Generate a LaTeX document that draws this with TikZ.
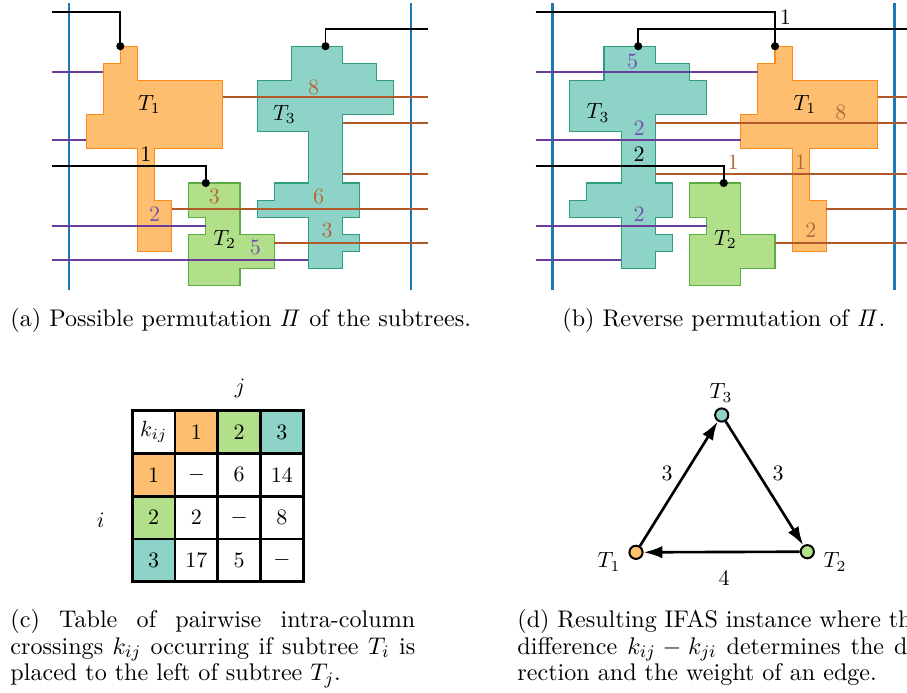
\documentclass[tikz,border=0pt]{standalone}
\usetikzlibrary{arrows.meta}
\definecolor{orF}{HTML}{FDBF6F}
\definecolor{orD}{HTML}{FF8A1C}
\definecolor{grF}{HTML}{B2DF8A}
\definecolor{grD}{HTML}{5AAE45}
\definecolor{tlF}{HTML}{8DD3C7}
\definecolor{tlD}{HTML}{2E9E7E}
\definecolor{bl}{HTML}{1F78B4}
\definecolor{pu}{HTML}{6A3D9A}
\definecolor{br}{HTML}{B15928}
\definecolor{puT}{HTML}{7450A8}
\definecolor{brT}{HTML}{B5673A}
\tikzset{
  treeO/.style={fill=orF, draw=orD, line width=0.5pt},
  treeG/.style={fill=grF, draw=grD, line width=0.5pt},
  treeT/.style={fill=tlF, draw=tlD, line width=0.5pt},
  pline/.style={pu, line width=0.9pt},
  bline/.style={br, line width=0.9pt},
  kline/.style={black, line width=0.9pt},
  colline/.style={bl, line width=1.3pt},
  dotk/.style={circle, fill=black, inner sep=0pt, minimum size=3.7pt},
  lab/.style={inner sep=0pt},
  labP/.style={inner sep=0pt, text=puT},
  labB/.style={inner sep=0pt, text=brT},
  cell/.style={draw, line width=1.2pt, minimum size=19.43pt, inner sep=0pt, anchor=center},
  gnode/.style={circle, draw, line width=0.9pt, minimum size=6pt, inner sep=0pt},
  gedge/.style={line width=1.2pt, -{Latex[length=8.5pt,width=5.6pt]}},
  captext/.style={inner sep=0pt, anchor=base west, font=\fontsize{10.95}{12.1}\selectfont},
  capbox/.style={inner sep=0pt, anchor=north west, text width=184pt, align=justify, font=\fontsize{10.95}{12.1}\selectfont},
}
\begin{document}
\begin{tikzpicture}[x=0.4545pt, y=-0.4545pt]
\clip (0,0) rectangle (907,692);
% ---------------- panel (a)
\begin{scope}[shift={(69,12)}, x=7.772pt, y=-7.772pt]
  \draw[treeO] (3,2)--(4,2)--(4,4)--(9,4)--(9,8)--(5,8)--(5,11)--(6,11)--(6,14)--(4,14)--(4,8)--(1,8)--(1,6)--(2,6)--(2,3)--(3,3)--cycle;
  \draw[treeG] (7,10)--(10,10)--(10,13)--(12,13)--(12,15)--(10,15)--(10,16)--(7,16)--(7,13)--(8,13)--(8,12)--(7,12)--cycle;
  \draw[treeT] (13,2)--(16,2)--(16,3)--(18,3)--(18,4)--(19,4)--(19,6)--(16,6)--(16,10)--(17,10)--(17,12)--(16,12)--(16,13)--(17,13)--(17,14)--(16,14)--(16,15)--(14,15)--(14,12)--(11,12)--(11,11)--(12,11)--(12,10)--(14,10)--(14,7)--(11,7)--(11,4)--(13,4)--cycle;
  \draw[colline] (0,-0.5)--(0,16.25);
  \draw[colline] (20,-0.5)--(20,16.25);
  \draw[pline] (-1,3.5)--(2,3.5);
  \draw[pline] (-1,7.5)--(1,7.5);
  \draw[pline] (-1,12.5)--(8,12.5);
  \draw[pline] (-1,14.5)--(14,14.5);
  \draw[bline] (9,4.97)--(21,4.97);
  \draw[bline] (16,6.5)--(21,6.5);
  \draw[bline] (16,9.5)--(21,9.5);
  \draw[bline] (6,11.5)--(21,11.5);
  \draw[bline] (12,13.5)--(21,13.5);
  \coordinate (a1s) at (-1,0);  \coordinate (a1) at (3,2);
  \coordinate (a3s) at (21,1);  \coordinate (a3) at (15,2);
  \coordinate (a2s) at (-1,9);  \coordinate (a2) at (8,10);
  \draw[kline] (a1s) -| (a1);
  \draw[kline] (a3s) -| (a3);
  \draw[kline] (a2s) -| (a2);
  \node[dotk] (da1) at (a1) {};
  \node[dotk] (da3) at (a3) {};
  \node[dotk] (da2) at (a2) {};
  \node[lab] (aT1) at (4.7,5.4) {$T_1$};
  \node[lab] (aone) at (4.5,8.3) {1};
  \node[labP] (atwo) at (5.0,11.8) {2};
  \node[labB] (athree) at (8.5,10.8) {3};
  \node[lab] (aT2) at (9.1,13.3) {$T_2$};
  \node[labP] (afive) at (10.9,13.75) {5};
  \node[labB] (aeight) at (14.3,4.4) {8};
  \node[lab] (aT3) at (12.6,6.0) {$T_3$};
  \node[labB] (asix) at (14.6,10.8) {6};
  \node[labB] (athreeb) at (15.1,12.75) {3};
\end{scope}
% ---------------- panel (b)
\begin{scope}[shift={(552.7,12)}, x=7.772pt, y=-7.772pt]
  \draw[treeT] (3,2)--(6,2)--(6,3)--(8,3)--(8,4)--(9,4)--(9,6)--(6,6)--(6,10)--(7,10)--(7,12)--(6,12)--(6,13)--(7,13)--(7,14)--(6,14)--(6,15)--(4,15)--(4,12)--(1,12)--(1,11)--(2,11)--(2,10)--(4,10)--(4,7)--(1,7)--(1,4)--(3,4)--cycle;
  \draw[treeO] (13,2)--(14,2)--(14,4)--(19,4)--(19,8)--(15,8)--(15,11)--(16,11)--(16,14)--(14,14)--(14,8)--(11,8)--(11,6)--(12,6)--(12,3)--(13,3)--cycle;
  \draw[treeG] (8,10)--(11,10)--(11,13)--(13,13)--(13,15)--(11,15)--(11,16)--(8,16)--(8,13)--(9,13)--(9,12)--(8,12)--cycle;
  \draw[colline] (0,-0.5)--(0,16.25);
  \draw[colline] (20,-0.5)--(20,16.25);
  \draw[pline] (-1,3.5)--(12,3.5);
  \draw[pline] (-1,7.5)--(11,7.5);
  \draw[pline] (-1,12.5)--(9,12.5);
  \draw[pline] (-1,14.5)--(4,14.5);
  \draw[bline] (19,4.97)--(21,4.97);
  \draw[bline] (6,6.5)--(21,6.5);
  \draw[bline] (6,9.5)--(21,9.5);
  \draw[bline] (16,11.5)--(21,11.5);
  \draw[bline] (13,13.5)--(21,13.5);
  \coordinate (b1s) at (-1,0);  \coordinate (b1) at (13,2);
  \coordinate (b3s) at (21,1);  \coordinate (b3) at (5,2);
  \coordinate (b2s) at (-1,9);  \coordinate (b2) at (10,10);
  \draw[kline] (b1s) -| (b1);
  \draw[kline] (b3s) -| (b3);
  \draw[kline] (b2s) -| (b2);
  \node[dotk] (db1) at (b1) {};
  \node[dotk] (db3) at (b3) {};
  \node[dotk] (db2) at (b2) {};
  \node[lab] (bone) at (13.6,0.3) {1};
  \node[labP] (bfive) at (4.67,2.9) {5};
  \node[lab] (bT3) at (2.65,5.9) {$T_3$};
  \node[labP] (btwoa) at (5.05,6.8) {2};
  \node[lab] (btwob) at (5.05,8.3) {2};
  \node[labP] (btwoc) at (5.05,11.8) {2};
  \node[labB] (bonea) at (10.55,8.8) {1};
  \node[lab] (bT2) at (10.1,13.3) {$T_2$};
  \node[lab] (bT1) at (14.75,5.4) {$T_1$};
  \node[labB] (beight) at (16.85,5.9) {8};
  \node[labB] (boneb) at (14.5,8.8) {1};
  \node[labB] (btwod) at (15.1,12.75) {2};
\end{scope}
% ---------------- captions (a),(b)
\node[captext] (capa) at (10,326) {(a) Possible permutation $\mathit{\Pi}$ of the subtrees.};
\node[captext] (capb) at (562,326) {(b) Reverse permutation of $\mathit{\Pi}$.};
% ---------------- table (c)
\node (jlab) at (240,388) {$j$};
\node (ilab) at (100.7,520) {$i$};
\node[cell] (c00) at (153.7,432.1) {$k_{ij}$};
\node[cell, fill=orF] (c01) at (196.4,432.1) {1};
\node[cell, fill=grF] (c02) at (239.2,432.1) {2};
\node[cell, fill=tlF] (c03) at (281.9,432.1) {3};
\node[cell, fill=orF] (c10) at (153.7,474.8) {1};
\node[cell] (c11) at (196.4,474.8) {$-$};
\node[cell] (c12) at (239.2,474.8) {6};
\node[cell] (c13) at (281.9,474.8) {14};
\node[cell, fill=grF] (c20) at (153.7,517.6) {2};
\node[cell] (c21) at (196.4,517.6) {2};
\node[cell] (c22) at (239.2,517.6) {$-$};
\node[cell] (c23) at (281.9,517.6) {8};
\node[cell, fill=tlF] (c30) at (153.7,560.3) {3};
\node[cell] (c31) at (196.4,560.3) {17};
\node[cell] (c32) at (239.2,560.3) {5};
\node[cell] (c33) at (281.9,560.3) {$-$};
% ---------------- graph (d)
\node[gnode, fill=tlF] (g3) at (721.7,415) {};
\node[gnode, fill=orF] (g1) at (636,552.3) {};
\node[gnode, fill=grF] (g2) at (807.3,551.7) {};
\draw[gedge] (g1) -- (g3);
\draw[gedge] (g3) -- (g2);
\draw[gedge] (g2) -- (g1);
\node[lab] (gT3) at (721,393) {$T_3$};
\node[lab] (gT1) at (609,562) {$T_1$};
\node[lab] (gT2) at (835,562) {$T_2$};
\node[lab] (w13) at (667,473) {3};
\node[lab] (w32) at (778,473) {3};
\node[lab] (w21) at (724,578) {4};
% ---------------- captions (c),(d)
\node[capbox] (capc) at (10,609)
  {(c) Table of pairwise intra-column\linebreak crossings $k_{ij}$ occurring if subtree $T_i$ is\linebreak placed to the left of subtree $T_j$.};
\node[capbox] (capd) at (517,609)
  {(d) Resulting IFAS instance where the\linebreak difference $k_{ij}-k_{ji}$ determines the di-\linebreak rection and the weight of an edge.};
\end{tikzpicture}
\end{document}
